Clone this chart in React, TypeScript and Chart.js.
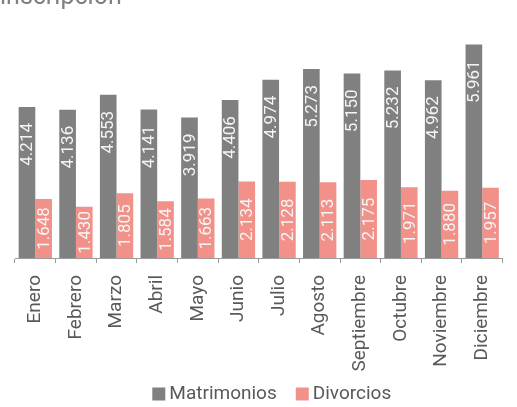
import React, { useEffect, useRef } from 'react';
import { Chart, registerables } from 'chart.js';

Chart.register(...registerables);

const TITLE_TEXT = 'inscripción';
const MONTHS = ['Enero', 'Febrero', 'Marzo', 'Abril', 'Mayo', 'Junio', 'Julio', 'Agosto', 'Septiembre', 'Octubre', 'Noviembre', 'Diciembre'];
const MATRIMONIOS = [4214, 4136, 4553, 4141, 3919, 4406, 4974, 5273, 5150, 5232, 4962, 5961];
const DIVORCIOS = [1648, 1430, 1805, 1584, 1663, 2134, 2128, 2113, 2175, 1971, 1880, 1957];
const SERIES_NAMES = ['Matrimonios', 'Divorcios'];
const SERIES_COLORS = ['#808080', '#F2918A'];

const W = 517;
const H = 407;
const FONT = 'Roboto, "Open Sans", sans-serif';

const fmt = (v: number) => String(v).replace(/\B(?=(\d{3})+(?!\d))/g, '.');

const labelPlugin = {
  id: 'barLabels',
  afterDatasetsDraw(chart: any) {
    const ctx = chart.ctx;
    chart.data.datasets.forEach((ds: any, di: number) => {
      const meta = chart.getDatasetMeta(di);
      meta.data.forEach((bar: any, i: number) => {
        const { x, y, base } = bar.getProps(['x', 'y', 'base'], true);
        ctx.save();
        ctx.font = `17px ${FONT}`;
        ctx.fillStyle = '#f5f5f5';
        ctx.textBaseline = 'middle';
        if (di === 0) {
          ctx.translate(x + 1, y + 16);
          ctx.rotate(-Math.PI / 2);
          ctx.textAlign = 'right';
        } else {
          ctx.translate(x + 1, (y + base) / 2);
          ctx.rotate(-Math.PI / 2);
          ctx.textAlign = 'center';
        }
        ctx.fillText(fmt(ds.data[i]), 0, 0);
        ctx.restore();
      });
    });
  },
};

const decorPlugin = {
  id: 'decor',
  afterDraw(chart: any) {
    const ctx = chart.ctx;
    // title (partially cut at top)
    ctx.save();
    ctx.font = `25px ${FONT}`;
    ctx.fillStyle = '#808080';
    ctx.textAlign = 'left';
    ctx.textBaseline = 'alphabetic';
    ctx.fillText(TITLE_TEXT, 0, 4);
    ctx.restore();

    // legend
    ctx.save();
    ctx.font = `19px ${FONT}`;
    ctx.textBaseline = 'middle';
    ctx.textAlign = 'left';
    const box = 13;
    const gap = 4;
    const spacing = 19;
    const items = chart.data.datasets.map((ds: any) => ({
      label: ds.label,
      color: ds.backgroundColor,
      w: ctx.measureText(ds.label).width,
    }));
    const total = items.reduce((s: number, it: any) => s + box + gap + it.w, 0) + spacing * (items.length - 1);
    const centerX = (chart.chartArea.left + chart.chartArea.right) / 2 + 13;
    const cy = 394;
    let x = centerX - total / 2;
    items.forEach((it: any) => {
      ctx.fillStyle = it.color;
      ctx.fillRect(x, cy - box / 2, box, box);
      x += box + gap;
      ctx.fillStyle = '#595959';
      ctx.fillText(it.label, x, cy);
      x += it.w + spacing;
    });
    ctx.restore();
  },
};

export default function App() {
  const ref = useRef<HTMLCanvasElement | null>(null);
  useEffect(() => {
    if (!ref.current) return;
    const chart = new Chart(ref.current, {
      type: 'bar',
      data: {
        labels: MONTHS,
        datasets: [
          { label: SERIES_NAMES[0], data: MATRIMONIOS, backgroundColor: SERIES_COLORS[0] },
          { label: SERIES_NAMES[1], data: DIVORCIOS, backgroundColor: SERIES_COLORS[1] },
        ],
      },
      options: {
        responsive: false,
        animation: false,
        devicePixelRatio: 1,
        layout: { padding: { left: 15, right: 0, top: 43, bottom: 0 } },
        datasets: { bar: { categoryPercentage: 0.82, barPercentage: 1 } } as any,
        plugins: {
          legend: { display: false },
          title: { display: false },
          tooltip: { enabled: false },
        },
        scales: {
          x: {
            grid: { offset: true, drawOnChartArea: false, tickLength: 5, color: '#9a9a9a' },
            border: { color: '#9a9a9a' },
            ticks: {
              minRotation: 90,
              maxRotation: 90,
              autoSkip: false,
              padding: 12,
              color: '#595959',
              font: { family: FONT, size: 19 },
            },
            afterFit: (s: any) => {
              s.height = 149;
            },
          },
          y: { display: false, min: 0, max: 6000 },
        },
      },
      plugins: [labelPlugin, decorPlugin],
    });
    return () => chart.destroy();
  }, []);
  return (
    <div style={{ position: 'absolute', left: 0, top: 0, width: W, height: H, background: '#fff' }}>
      <canvas ref={ref} width={W} height={H} style={{ display: 'block', width: W, height: H }} />
    </div>
  );
}
